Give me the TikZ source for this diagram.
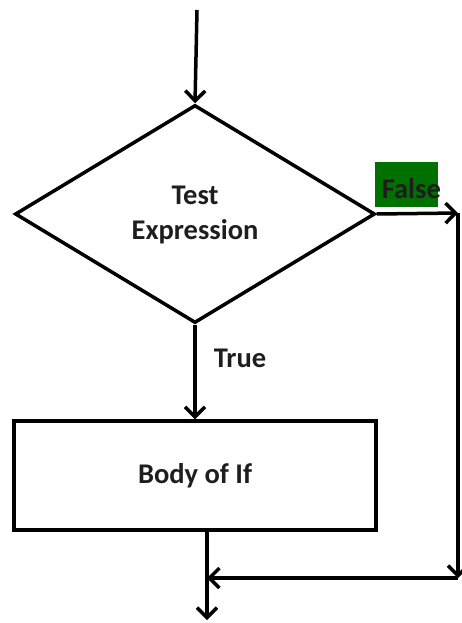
\documentclass[tikz,border=0pt]{standalone}
\usepackage{fontspec}
\setmainfont{Carlito}
\usetikzlibrary{shapes.geometric,arrows.meta}
\definecolor{falsegreen}{RGB}{0,112,0}
\definecolor{txt}{RGB}{30,30,30}
\begin{document}
\begin{tikzpicture}[x=1pt,y=-1pt,
  line width=3.5pt,
  arr/.style={-{Straight Barb[length=10pt,width=20pt,line width=3.5pt]}},
  lbl/.style={font=\fontsize{28.5}{35}\selectfont\bfseries, text=txt, align=center, inner sep=0pt},
  dia/.style={draw, diamond, aspect=1.65, minimum width=360pt, minimum height=218pt, inner sep=0pt},
  boxs/.style={draw, rectangle, minimum width=362pt, minimum height=109pt, inner sep=0pt}]
\useasboundingbox (0,0) rectangle (461,623);
\coordinate (start) at (197,10);
\node[dia] (d) at (195,214) {};
\node[lbl] (dt) at (195,215) {Test\\Expression};
\node[boxs] (b) at (195,475.5) {};
\node[lbl] (bt) at (195,476) {Body of If};
\node[lbl, anchor=west] (tl) at (212,358) {True};
\node[fill=falsegreen, minimum width=63pt, minimum height=45pt, inner sep=0pt] (fb) at (406.5,184.5) {};
\node[lbl, anchor=base west] (fl) at (380,198) {False};
\coordinate (c1) at (458,213);
\coordinate (c2) at (458,578);
\coordinate (c3) at (207,578);
\coordinate (bb) at (207,530);
\coordinate (endp) at (207,620);
\draw[arr] (start) -- (d.north);
\draw[arr] (d.south) -- (d.south |- b.north);
\draw[arr] (d.east) -- (c1);
\draw[arr] (c1) -- (c2);
\draw[arr] (c2) -- (c3);
\draw[arr] (bb) -- (endp);
\end{tikzpicture}
\end{document}
